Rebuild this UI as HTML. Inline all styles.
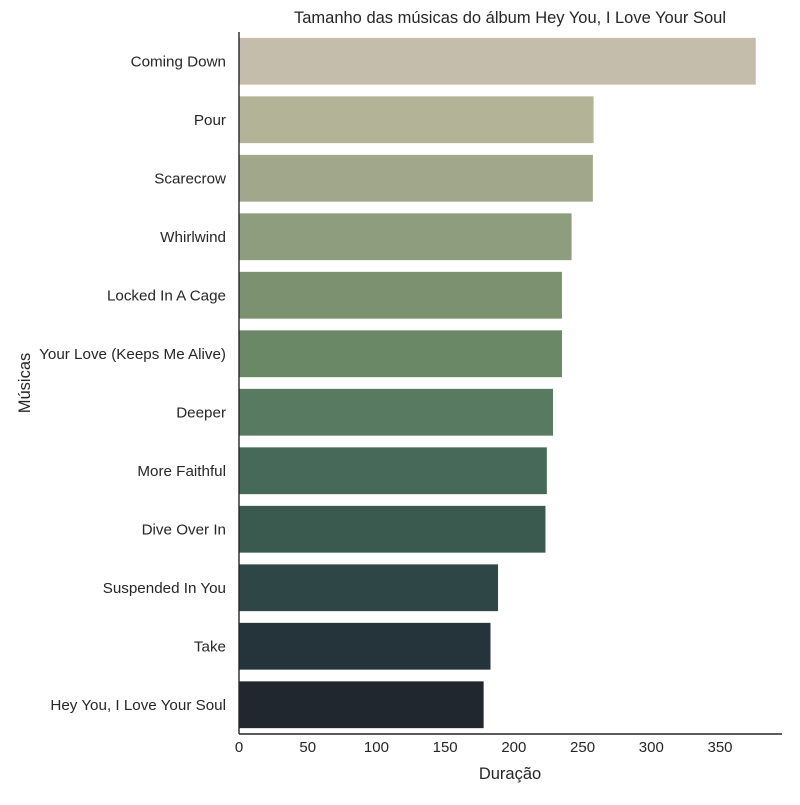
<!DOCTYPE html>
<html><head><meta charset="utf-8"><style>
body{margin:0;background:#fff;font-family:"Liberation Sans","DejaVu Sans",sans-serif;}
svg text{fill:#262626;font-family:"Liberation Sans","DejaVu Sans",sans-serif;}
</style></head><body>
<svg id="chart" width="800" height="800"></svg>
<script>
const categories=["Coming Down","Pour","Scarecrow","Whirlwind","Locked In A Cage","Your Love (Keeps Me Alive)","Deeper","More Faithful","Dive Over In","Suspended In You","Take","Hey You, I Love Your Soul"];
const durations=[376,258,257.5,242,235,235,228.5,224,223,188.5,183,178];
const colors=["#c5bdab","#b3b398","#a0a78a","#8e9d7d","#7c9170","#6a8766","#577a61","#466959","#3a5a4f","#2f4647","#25343a","#20272f"];
const xTicks=[0,50,100,150,200,250,300,350];
const NS="http://www.w3.org/2000/svg";
const svg=document.getElementById('chart');
const L=239,R=782,T=32,B=734;
const xs=v=>L+v*(720-239)/350;
const band=(B-T)/categories.length;
function mk(tag,attrs,text){const e=document.createElementNS(NS,tag);for(const k in attrs)e.setAttribute(k,attrs[k]);if(text!==undefined)e.textContent=text;svg.appendChild(e);return e;}
categories.forEach((c,i)=>{
  const y=T+band*i+band*0.1;
  const r=mk('rect',{x:xs(0),y:y,width:xs(durations[i])-xs(0),height:band*0.8,fill:colors[i]});
  
  
  const t=mk('text',{x:226,y:T+band*(i+0.5)+5,'text-anchor':'end','font-size':15.2},c);
  
  
});
xTicks.forEach(v=>{
  const t=mk('text',{x:xs(v),y:752,'text-anchor':'middle','font-size':15},v);
  
  
});
const ya=mk('line',{x1:L,y1:T,x2:L,y2:B,stroke:'#262626','stroke-width':1.4});


const xa=mk('line',{x1:L,y1:B,x2:R,y2:B,stroke:'#262626','stroke-width':1.4});


const tt=mk('text',{x:510,y:23,'text-anchor':'middle','font-size':16.5},'Tamanho das músicas do álbum Hey You, I Love Your Soul');


const xt=mk('text',{x:510,y:779,'text-anchor':'middle','font-size':16.5},'Duração');


const yt=mk('text',{x:30,y:383,'text-anchor':'middle','font-size':16.5,transform:'rotate(-90 30 383)'},'Músicas');


</script>
</body></html>
